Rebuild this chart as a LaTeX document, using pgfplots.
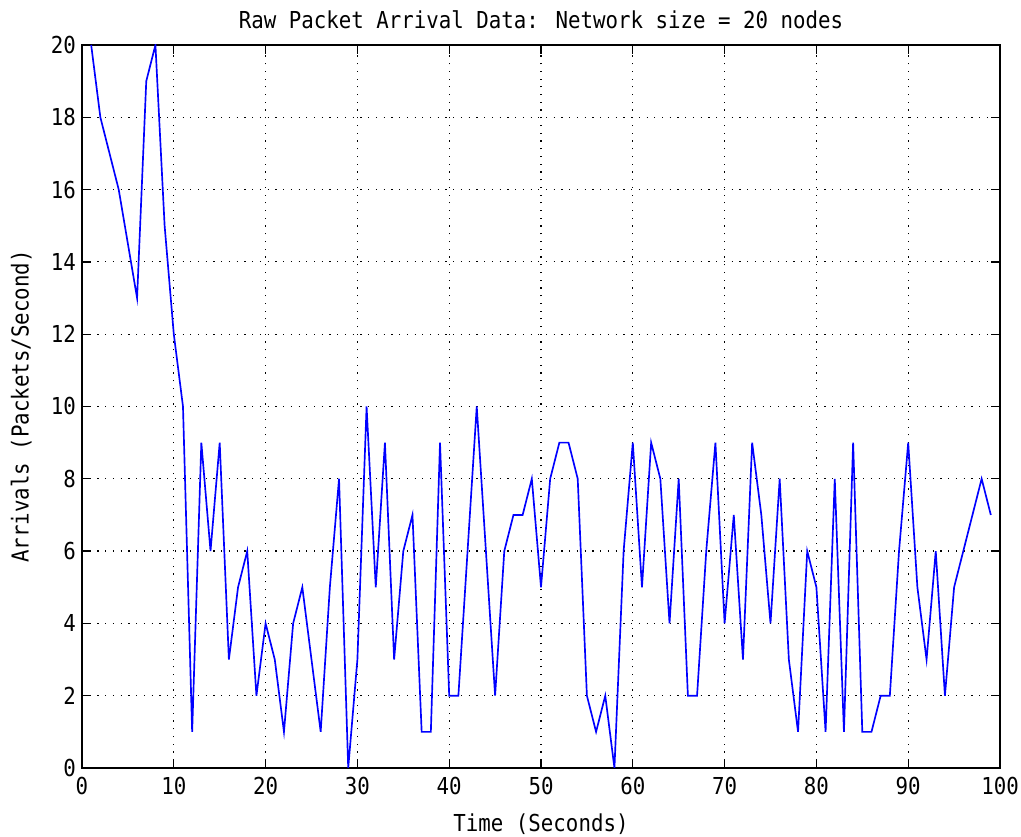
\documentclass[border=0pt]{standalone}
\usepackage{fontspec}
\setmainfont[FakeStretch=0.89]{DejaVu Sans Mono}
\usepackage{pgfplots}
\pgfplotsset{compat=1.18}
\begin{document}
\begin{tikzpicture}
\begin{axis}[
  width=688.5pt, height=542.25pt, scale only axis,
  xmin=0, xmax=100, ymin=0, ymax=20,
  xtick={0,10,...,100}, ytick={0,2,...,20},
  grid=major,
  major grid style={black, line width=0.9pt, dash pattern=on 0.9pt off 4.9pt},
  tick align=inside, major tick length=7pt,
  tick style={black, line width=1pt},
  axis line style={black, line width=1pt},
  tick label style={font=\fontsize{17.5}{20}\selectfont},
  /pgf/number format/assume math mode=true,
  xticklabel style={yshift=-3pt},
  yticklabel style={xshift=-1pt},
  title={Raw Packet Arrival Data: Network size = 20 nodes},
  title style={font=\fontsize{17.5}{20}\selectfont, at={([yshift=6pt]axis description cs:0.5,1)}, anchor=base, inner sep=0pt},
  xlabel={Time (Seconds)},
  ylabel={Arrivals (Packets/Second)},
  label style={font=\fontsize{17.5}{20}\selectfont},
  xlabel style={at={([yshift=-48pt]axis description cs:0.5,0)}, anchor=base, inner sep=0pt},
  ylabel style={at={([xshift=-40pt]axis description cs:0,0.5)}, anchor=base, rotate=0, inner sep=0pt},
]
\addplot[color={rgb,1:red,0;green,0;blue,1}, line width=1.25pt, mark=none] coordinates {
(1,20) (2,18) (3,17) (4,16) (5,14.5) (6,13) (7,19) (8,20) (9,15) (10,12)
(11,10) (12,1) (13,9) (14,6) (15,9) (16,3) (17,5) (18,6) (19,2) (20,4)
(21,3) (22,1) (23,4) (24,5) (25,3) (26,1) (27,5) (28,8) (29,0) (30,3)
(31,10) (32,5) (33,9) (34,3) (35,6) (36,7) (37,1) (38,1) (39,9) (40,2)
(41,2) (42,6) (43,10) (44,6) (45,2) (46,6) (47,7) (48,7) (49,8) (50,5)
(51,8) (52,9) (53,9) (54,8) (55,2) (56,1) (57,2) (58,0) (59,6) (60,9)
(61,5) (62,9) (63,8) (64,4) (65,8) (66,2) (67,2) (68,6) (69,9) (70,4)
(71,7) (72,3) (73,9) (74,7) (75,4) (76,8) (77,3) (78,1) (79,6) (80,5)
(81,1) (82,8) (83,1) (84,9) (85,1) (86,1) (87,2) (88,2) (89,6) (90,9)
(91,5) (92,3) (93,6) (94,2) (95,5) (96,6) (97,7) (98,8) (99,7)
};
\end{axis}
\pgfresetboundingbox
\path (current axis.south west) ++(-61.5pt,-51.75pt) coordinate (bl);
\path (current axis.north east) ++(15.75pt,33.75pt) coordinate (tr);
\useasboundingbox (bl) rectangle (tr);
\end{tikzpicture}
\end{document}
